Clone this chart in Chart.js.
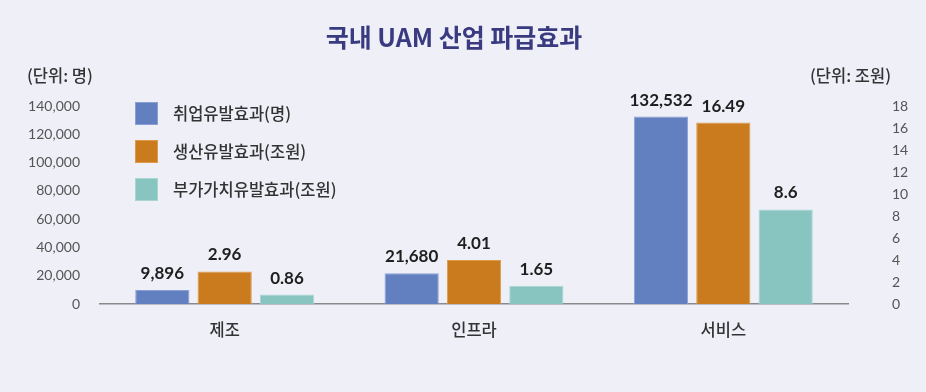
<!DOCTYPE html>
<html>
<head>
<meta charset="utf-8">
<script src="https://cdn.jsdelivr.net/npm/chart.js@4"></script>
<style>
  html, body { margin: 0; padding: 0; background: #efeff8; }
  #wrap { width: 926px; height: 392px; position: relative; }
</style>
</head>
<body>
<div id="wrap"><canvas id="myChart" width="926" height="392"></canvas></div>
<script>
// 데이터
const categories = ['제조', '인프라', '서비스'];
const employment = [9896, 21680, 132532];      // 취업유발효과(명)
const production = [2.96, 4.01, 16.49];        // 생산유발효과(조원)
const valueAdded = [0.86, 1.65, 8.6];          // 부가가치유발효과(조원)
const seriesNames = ['취업유발효과(명)', '생산유발효과(조원)', '부가가치유발효과(조원)'];
const leftTicks = [0, 20000, 40000, 60000, 80000, 100000, 120000, 140000];
const rightTicks = [0, 2, 4, 6, 8, 10, 12, 14, 16, 18];

const colors = ['#6280c0', '#c97b1d', '#88c5c0'];
const borders = ['#8aa0d4', '#dc9a4a', '#a8d6d2'];
const KR = "'Noto Sans CJK KR', sans-serif";
const NUM = "Lato, 'Noto Sans CJK KR', sans-serif";

function fmt(v) {
    return v >= 1000 ? v.toLocaleString('en-US') : String(v);
}

// 제목, 단위, 범례, 값 라벨
const extras = {
    id: 'extras',
    afterDraw(chart) {
        const ctx = chart.ctx;
        ctx.save();
        ctx.fillStyle = '#3a3a80';
        ctx.font = "bold 25px " + KR;
        ctx.textAlign = 'center';
        ctx.textBaseline = 'middle';
        ctx.fillText('국내 UAM 산업 파급효과', 454, 37);

        ctx.fillStyle = '#333';
        ctx.font = "500 16.5px " + KR;
        ctx.textAlign = 'left';
        ctx.fillText('(단위: 명)', 27, 76);
        ctx.textAlign = 'right';
        ctx.fillText('(단위: 조원)', 891, 76);

        // legend
        ctx.textAlign = 'left';
        ctx.font = "500 16.5px " + KR;
        for (let i = 0; i < seriesNames.length; i++) {
            const y = 102 + i * 38;
            ctx.fillStyle = colors[i];
            ctx.fillRect(135, y, 23, 23);
            ctx.strokeStyle = borders[i];
            ctx.lineWidth = 1;
            ctx.strokeRect(135.5, y + 0.5, 22, 22);
            ctx.fillStyle = '#333';
            ctx.fillText(seriesNames[i], 173, y + 12);
        }

        // value labels
        ctx.fillStyle = '#1e1e1e';
        ctx.font = "bold 17px " + NUM;
        ctx.textAlign = 'center';
        ctx.textBaseline = 'bottom';
        chart.data.datasets.forEach((ds, di) => {
            const meta = chart.getDatasetMeta(di);
            meta.data.forEach((bar, i) => {
                ctx.fillText(fmt(ds.data[i]), bar.x, bar.y - 8);
            });
        });
        ctx.restore();
    }
};

const ctx = document.getElementById('myChart').getContext('2d');
const chart = new Chart(ctx, {
    type: 'bar',
    data: {
        labels: categories,
        datasets: [
            { label: seriesNames[0], data: employment, yAxisID: 'yL',
              backgroundColor: colors[0], borderColor: borders[0], borderWidth: 1 },
            { label: seriesNames[1], data: production, yAxisID: 'yR',
              backgroundColor: colors[1], borderColor: borders[1], borderWidth: 1 },
            { label: seriesNames[2], data: valueAdded, yAxisID: 'yR',
              backgroundColor: colors[2], borderColor: borders[2], borderWidth: 1 }
        ]
    },
    options: {
        responsive: false,
        animation: false,
        layout: { padding: { top: 106, left: 0, right: 0, bottom: 0 } },
        plugins: { legend: { display: false }, title: { display: false }, tooltip: { enabled: false } },
        datasets: { bar: { categoryPercentage: 0.75, barPercentage: 0.87 } },
        scales: {
            x: {
                grid: { display: false, drawTicks: false },
                border: { display: true, color: '#8a8a8a', width: 1.5 },
                ticks: { color: '#333', font: { family: KR, size: 16.5, weight: '500' }, padding: 16 },
                afterFit(scale) { scale.height = 88; }
            },
            yL: {
                position: 'left',
                min: 0, max: 140000,
                grid: { display: false, drawTicks: false },
                border: { display: false },
                afterBuildTicks(scale) { scale.ticks = leftTicks.map(v => ({ value: v })); },
                ticks: { color: '#555', font: { family: NUM, size: 14 }, padding: 20,
                         callback: v => fmt(v) },
                afterFit(scale) { scale.width = 100; }
            },
            yR: {
                position: 'right',
                min: 0, max: 18,
                grid: { display: false, drawTicks: false },
                border: { display: false },
                afterBuildTicks(scale) { scale.ticks = rightTicks.map(v => ({ value: v })); },
                ticks: { color: '#555', font: { family: NUM, size: 14 }, padding: 44 },
                afterFit(scale) { scale.width = 78; }
            }
        }
    },
    plugins: [extras]
});
</script>
</body>
</html>
